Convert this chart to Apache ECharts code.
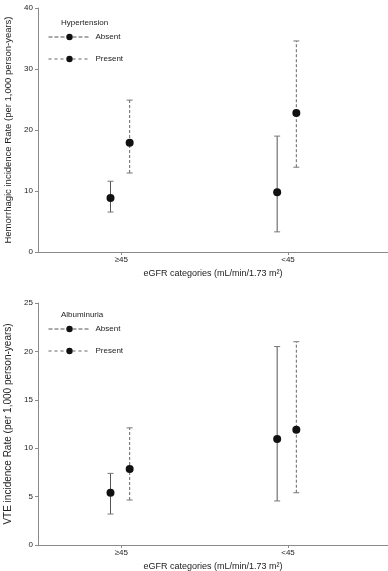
<!DOCTYPE html>
<html><head><meta charset="utf-8">
<script src="https://cdn.jsdelivr.net/npm/echarts@6/dist/echarts.min.js"></script>
<style>html,body{margin:0;padding:0;background:#fff}#c{width:388px;height:571px}</style>
</head><body><div id="c"></div>
<script>
var categories = ['≥45', '<45'];
var catPos = [1, 3];
var seriesNames = ['Absent', 'Present'];
var topYTicks = [0, 10, 20, 30, 40];
var botYTicks = [0, 5, 10, 15, 20, 25];

var topS1Rate = [8.85, 9.8],  topS1Low = [6.55, 3.3],  topS1High = [11.6, 19.0];
var topS2Rate = [17.9, 22.8], topS2Low = [12.95, 13.9], topS2High = [24.9, 34.6];
var botS1Rate = [5.4, 10.95], botS1Low = [3.2, 4.55],  botS1High = [7.4, 20.5];
var botS2Rate = [7.85, 11.9], botS2Low = [4.65, 5.4],  botS2High = [12.1, 21.0];

var dodge = [-0.13, 0.1];
var font = 'Liberation Sans, Arial, sans-serif';
var axisCol = '#8a8a8a';
var txtCol = '#222';

function pts(rate, k) { return rate.map(function (v, i) { return [catPos[i] + dodge[k], v]; }); }
function bars(low, high, k) { return low.map(function (v, i) { return [catPos[i] + dodge[k], v, high[i]]; }); }

function errSeries(data, gi, dashed) {
  return {
    type: 'custom', xAxisIndex: gi, yAxisIndex: gi, silent: true, z: 2,
    renderItem: function (params, api) {
      var x = api.value(0);
      var a = api.coord([x, api.value(1)]);
      var b = api.coord([x, api.value(2)]);
      var st = { stroke: dashed ? '#666' : '#555', lineWidth: 1, lineDash: dashed ? [3, 2] : null };
      var cst = { stroke: '#777', lineWidth: 1 };
      return { type: 'group', children: [
        { type: 'line', shape: { x1: a[0], y1: a[1], x2: b[0], y2: b[1] }, style: st },
        { type: 'line', shape: { x1: a[0] - 3, y1: a[1], x2: a[0] + 3, y2: a[1] }, style: cst },
        { type: 'line', shape: { x1: b[0] - 3, y1: b[1], x2: b[0] + 3, y2: b[1] }, style: cst }
      ] };
    },
    encode: { x: 0, y: [1, 2] },
    data: data
  };
}
function ptSeries(name, data, gi) {
  return {
    type: 'line', name: name, xAxisIndex: gi, yAxisIndex: gi, z: 3,
    symbol: 'circle', symbolSize: 8, showSymbol: true,
    itemStyle: { color: '#111' },
    lineStyle: { opacity: 0 },
    data: data
  };
}
function xAxis(gi) {
  return {
    type: 'value', gridIndex: gi, min: 0, max: 4.2,
    name: 'eGFR categories (mL/min/1.73 m²)', nameLocation: 'middle', nameGap: 17,
    nameTextStyle: { fontSize: 9, fontFamily: font, color: txtCol },
    axisLine: { show: true, lineStyle: { color: axisCol, width: 1 } },
    axisTick: { show: true, length: 3, customValues: catPos, lineStyle: { color: axisCol } },
    axisLabel: { fontSize: 8, fontFamily: font, color: txtCol, margin: 4, customValues: catPos,
      formatter: function (v) { var i = catPos.indexOf(v); return i >= 0 ? categories[i] : ''; } },
    splitLine: { show: false }
  };
}
function yAxis(gi, ticks, step, name, nameSize) {
  return {
    type: 'value', gridIndex: gi, min: ticks[0], max: ticks[ticks.length - 1], interval: step,
    name: name, nameLocation: 'middle', nameGap: 17, nameRotate: 90,
    nameTextStyle: { fontSize: nameSize, fontFamily: font, color: txtCol },
    axisLine: { show: true, lineStyle: { color: axisCol, width: 1 } },
    axisTick: { show: true, length: 3, lineStyle: { color: axisCol } },
    axisLabel: { fontSize: 8, fontFamily: font, color: txtCol, margin: 5 },
    splitLine: { show: false }
  };
}
function legend(top) {
  return {
    orient: 'vertical', left: 43, top: top, itemGap: 14, itemWidth: 42, itemHeight: 8,
    textStyle: { fontSize: 8, fontFamily: font, color: txtCol },
    data: [
      { name: seriesNames[0], lineStyle: { opacity: 1, color: '#555', width: 1, type: [4, 2] } },
      { name: seriesNames[1], lineStyle: { opacity: 1, color: '#666', width: 1, type: [3, 3] } }
    ]
  };
}

var chart = echarts.init(document.getElementById('c'), null, { renderer: 'canvas' });
chart.setOption({
  animation: false,
  backgroundColor: '#fff',
  title: [
    { text: 'Hypertension', left: 56, top: 14, textStyle: { fontSize: 8, fontWeight: 'normal', fontFamily: font, color: txtCol } },
    { text: 'Albuminuria', left: 56, top: 306, textStyle: { fontSize: 8, fontWeight: 'normal', fontFamily: font, color: txtCol } }
  ],
  legend: [legend(28), legend(320)],
  grid: [
    { left: 38, right: 0, top: 8, height: 244, outerBoundsMode: 'none', containLabel: false },
    { left: 38, right: 0, top: 303, height: 242, outerBoundsMode: 'none', containLabel: false }
  ],
  xAxis: [xAxis(0), xAxis(1)],
  yAxis: [
    yAxis(0, topYTicks, 10, 'Hemorrhagic incidence Rate (per 1,000 person-years)', 9.5),
    yAxis(1, botYTicks, 5, 'VTE incidence Rate (per 1,000 person-years)', 10)
  ],
  series: [
    errSeries(bars(topS1Low, topS1High, 0), 0, false),
    errSeries(bars(topS2Low, topS2High, 1), 0, true),
    ptSeries(seriesNames[0], pts(topS1Rate, 0), 0),
    ptSeries(seriesNames[1], pts(topS2Rate, 1), 0),
    errSeries(bars(botS1Low, botS1High, 0), 1, false),
    errSeries(bars(botS2Low, botS2High, 1), 1, true),
    ptSeries(seriesNames[0], pts(botS1Rate, 0), 1),
    ptSeries(seriesNames[1], pts(botS2Rate, 1), 1)
  ]
});
</script></body></html>
